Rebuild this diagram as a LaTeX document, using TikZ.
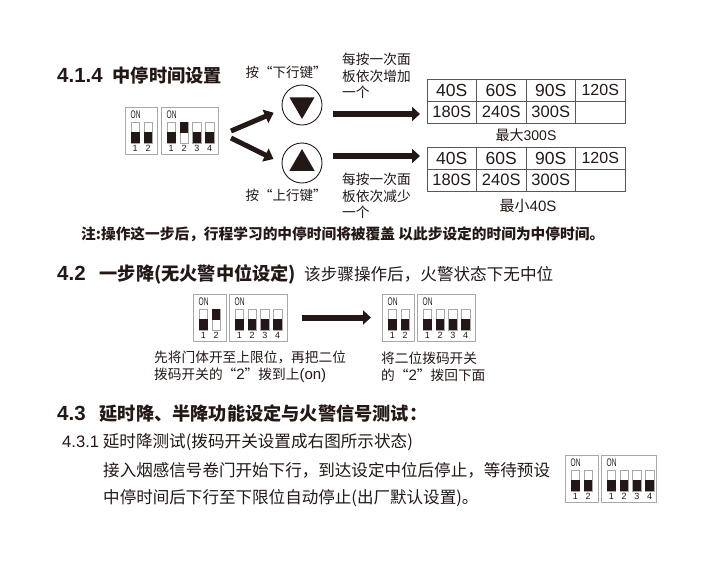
\documentclass[tikz,border=0pt]{standalone}
\usepackage{fontspec}
\setmainfont{Noto Sans CJK SC}
\newfontfamily\lat{Liberation Sans}
\usepackage{xcolor}
\usetikzlibrary{positioning, arrows.meta, calc, shapes.geometric}

\definecolor{inkdark}{HTML}{231815}
\definecolor{ruledark}{HTML}{595757}
\definecolor{dipgrey}{HTML}{A8A8A8}

\tikzset{
    dipbox/.style={rectangle, draw=dipgrey, line width=0.8pt, fill=white, inner sep=0pt, outer sep=0pt, minimum height=47pt, anchor=north west},
    dipslot/.style={rectangle, draw=dipgrey, line width=0.6pt, fill=white, inner sep=0pt, outer sep=0pt, minimum width=8.5pt, minimum height=21pt, anchor=north west},
    diplever/.style={rectangle, fill=inkdark, inner sep=0pt, outer sep=0pt, minimum width=8.5pt, minimum height=11pt},
    diptag/.style={font=\lat\fontsize{9}{10}\selectfont, text=inkdark, inner sep=0pt},
    ontag/.style={font=\lat\fontsize{11}{12}\selectfont, text=inkdark, inner sep=0pt, xscale=0.6},
}

% name, left, top, width, states
\newcommand{\dipunit}[5]{
    \node[dipbox, minimum width=#4pt](#1) at (#2,#3){};
    \node[ontag](#1on)[below right = 4pt and 5.5pt of #1.north west]{ON};
    \foreach \st [count=\i] in {#5}{
        \node[dipslot](#1s\i) at ([xshift={(\i-1)*12.8+6}, yshift=-15]#1.north west){};
        \ifnum\st=1
            \node[diplever, anchor=north](#1m\i) at (#1s\i.north){};
        \else
            \node[diplever, anchor=south](#1m\i) at (#1s\i.south){};
        \fi
        \node[diptag](#1n\i)[below = 2.5pt of #1s\i.south]{\i};
    }
}

\begin{document}
\begin{tikzpicture}[
    x=1pt, y=-1pt,
    headtext/.style={font=\bfseries\fontsize{18.2}{20}\selectfont, text=inkdark, inner sep=0pt, anchor=west},
    plaintext/.style={font=\fontsize{13.7}{16.6}\selectfont, text=inkdark, align=left, inner sep=0pt, anchor=west},
    bodytext/.style={font=\fontsize{16.55}{18}\selectfont, text=inkdark, inner sep=0pt, anchor=west},
    keytext/.style={font=\fontsize{13.5}{15}\selectfont, text=inkdark, inner sep=0pt},
    keyring/.style={circle, draw=inkdark, line width=0.9pt, fill=white, minimum size=40pt, inner sep=0pt},
    keymark/.style={regular polygon, regular polygon sides=3, fill=inkdark, minimum size=29pt, inner sep=0pt},
    timecell/.style={rectangle, draw=ruledark, line width=0.7pt, minimum width=49.5pt, minimum height=22pt, inner sep=0pt, outer sep=0pt, text=inkdark, font=\lat\fontsize{16.5}{18}\selectfont},
    bigcell/.style={timecell, font=\lat\fontsize{17.5}{18}\selectfont},
    smallcell/.style={timecell, font=\lat\fontsize{16}{18}\selectfont},
    fatarrow/.style={-{Triangle[length=8pt, width=14pt]}, draw=inkdark, line width=6pt},
    forkarrow/.style={-{Triangle[length=9pt, width=14pt]}, draw=inkdark, line width=5pt, shorten >=9pt},
]
\useasboundingbox (0,0) rectangle (720,560);

\node[headtext](titleA) at (57,75){{\lat\fontsize{20.5}{20}\selectfont 4.1.4}\hspace{10pt}中停时间设置};
\dipunit{dipa}{125}{107}{32}{0,0}
\dipunit{dipb}{161}{107}{57}{0,1,0,0}

\node[keyring](keydown) at (302,105){};
\node[keymark, rotate=180](markdown) at (302,104.5){};
\node[keyring](keyup) at (302,163){};
\node[keymark](markup) at (302,163.5){};
\node[keytext](labeldown)[above = 26pt of keydown.center, xshift=-16pt]{按“下行键”};
\node[keytext](labelup)[below = 26pt of keyup.center, xshift=-16pt]{按“上行键”};

\coordinate (forkup) at (231,131);
\coordinate (forkdown) at (231,138);
\draw[forkarrow] (forkup) -- (keydown.192);
\draw[forkarrow] (forkdown) -- (keyup.west);

% upper table
\node[bigcell, anchor=north west](ua) at (427,79){40S};
\node[bigcell](ub)[right = 0cm of ua]{60S};
\node[bigcell](uc)[right = 0cm of ub]{90S};
\node[smallcell](ud)[right = 0cm of uc]{120S};
\node[timecell](ue)[below = 0cm of ua]{180S};
\node[timecell](uf)[right = 0cm of ue]{240S};
\node[timecell](ug)[right = 0cm of uf]{300S};
\node[timecell](uh)[right = 0cm of ug]{};
% lower table
\node[bigcell, anchor=north west](la) at (427,147){40S};
\node[bigcell](lb)[right = 0cm of la]{60S};
\node[bigcell](lc)[right = 0cm of lb]{90S};
\node[smallcell](ld)[right = 0cm of lc]{120S};
\node[timecell](le)[below = 0cm of la]{180S};
\node[timecell](lf)[right = 0cm of le]{240S};
\node[timecell](lg)[right = 0cm of lf]{300S};
\node[timecell](lh)[right = 0cm of lg]{};

\node[plaintext, anchor=center, font=\fontsize{14}{16}\selectfont](maxnote) at (526,135){最大{\lat 300S}};
\node[plaintext, anchor=center, font=\fontsize{15}{16}\selectfont](minnote) at (528,206){最小{\lat 40S}};

\coordinate (arrowa) at (333,114);
\coordinate (arrowb) at (333,156);
\draw[fatarrow, shorten >=7pt] (arrowa) -- ([yshift=-2pt]ue.west);
\draw[fatarrow, shorten >=7pt] (arrowb) -- ([yshift=2pt]la.west);
\node[plaintext](addnote) at (342,76){每按一次面\\板依次增加\\一个};
\node[plaintext](subnote) at (342,196){每按一次面\\板依次减少\\一个};

\node[plaintext, font=\bfseries\fontsize{14.7}{16}\selectfont](warn) at (81,234){注:操作这一步后，行程学习的中停时间将被覆盖 以此步设定的时间为中停时间。};

\node[headtext](titleB) at (57,274){{\lat\fontsize{20.5}{20}\selectfont 4.2}\hspace{14pt}一步降(无火警中位设定)};
\node[plaintext, font=\fontsize{16.6}{18}\selectfont](titleBnote) at (304,274){该步骤操作后，火警状态下无中位};

\dipunit{dipc}{193}{294}{33}{0,1}
\dipunit{dipd}{229}{294}{58}{0,0,0,0}
\dipunit{dipe}{382}{294}{32}{0,0}
\dipunit{dipf}{417}{294}{58}{0,0,0,0}
\draw[fatarrow, shorten <=15pt, shorten >=11pt] (dipd.east) -- (dipe.west);
\node[plaintext](capleft) at (154,367){先将门体开至上限位，再把二位\\拨码开关的“{\lat\fontsize{15}{16}\selectfont 2}”拨到上{\lat\fontsize{15}{16}\selectfont (on)}};
\node[plaintext](capright) at (381,367){将二位拨码开关\\的“{\lat\fontsize{15}{16}\selectfont 2}”拨回下面};

\node[headtext](titleC) at (57,414){{\lat\fontsize{20.5}{20}\selectfont 4.3}\hspace{14pt}延时降、半降功能设定与火警信号测试：};
\node[plaintext, font=\fontsize{16.6}{18}\selectfont](titleD) at (62,442){{\lat 4.3.1} 延时降测试(拨码开关设置成右图所示状态)};
\node[bodytext](bodya) at (103,470){接入烟感信号卷门开始下行，到达设定中位后停止，等待预设};
\node[bodytext](bodyb) at (103,498){中停时间后下行至下限位自动停止(出厂默认设置)。};

\dipunit{dipg}{565}{455}{33}{0,0}
\dipunit{diph}{601}{455}{55}{0,0,0,0}
\end{tikzpicture}
\end{document}
